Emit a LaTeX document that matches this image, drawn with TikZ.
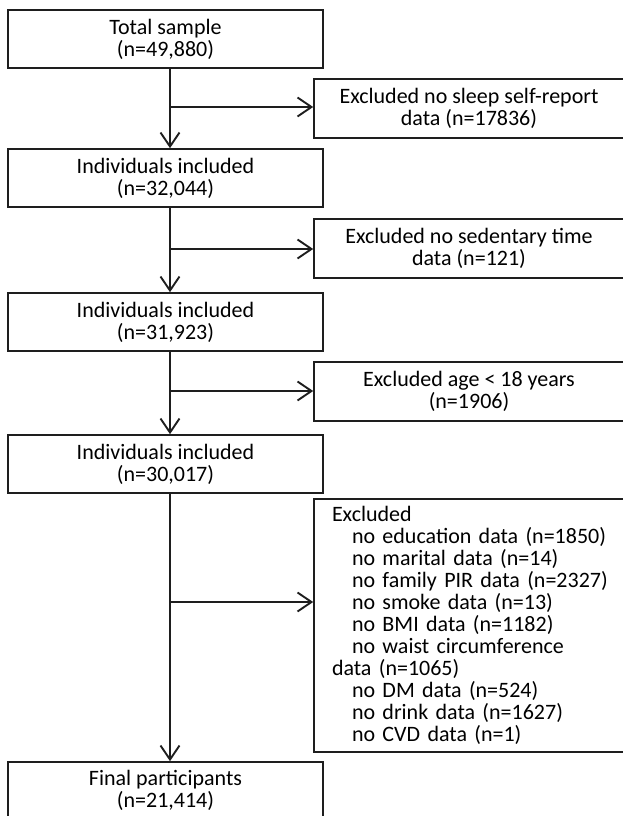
\documentclass[tikz,border=0pt]{standalone}
\usepackage{fontspec}
\setmainfont{Carlito}
\usetikzlibrary{arrows.meta}
\definecolor{edge}{HTML}{1E1E1E}
\newcommand{\lvlA}{\hspace*{13pt}}
\newcommand{\lvlB}{\hspace*{33pt}}
\begin{document}
\begin{tikzpicture}[x=1pt,y=-1pt,
  font=\fontsize{22}{22}\selectfont,
  stagebox/.style={draw=edge,line width=1.6pt,minimum width=315pt,minimum height=58pt,align=center,inner sep=2pt},
  exclbox/.style={draw=edge,line width=1.6pt,minimum width=310pt,minimum height=59pt,align=center,inner sep=2pt},
  flowarr/.style={draw=edge,line width=1.9pt,-{Straight Barb[length=14pt,width=19pt]}}]
\useasboundingbox (0,0) rectangle (622,816);
% main column
\node[stagebox] (b1) at (165.5,39) {Total sample\\(n=49,880)};
\node[stagebox] (b2) at (165.5,178) {Individuals included\\(n=32,044)};
\node[stagebox] (b3) at (165.5,322) {Individuals included\\(n=31,923)};
\node[stagebox] (b4) at (165.5,464) {Individuals included\\(n=30,017)};
\node[stagebox,minimum height=56pt] (b5) at (165.5,790) {Final participants\\(n=21,414)};
% exclusion boxes
\node[exclbox] (e1) at (469,108.5) {Excluded no sleep self-report\\data (n=17836)};
\node[exclbox] (e2) at (469,248.5) {Excluded no sedentary time\\data (n=121)};
\node[exclbox] (e3) at (469,391.5) {Excluded age < 18 years\\(n=1906)};
\node[draw=edge,line width=1.6pt,minimum width=310pt,minimum height=253pt,text width=300pt,inner xsep=5pt,align=left] (e4) at (469,625.5) {\lvlA Excluded\\
\lvlB no education data (n=1850)\\
\lvlB no marital data (n=14)\\
\lvlB no family PIR data (n=2327)\\
\lvlB no smoke data (n=13)\\
\lvlB no BMI data (n=1182)\\
\lvlB no waist circumference\\
\lvlA data (n=1065)\\
\lvlB no DM data (n=524)\\
\lvlB no drink data (n=1627)\\
\lvlB no CVD data (n=1)};
% spine coordinates
\coordinate (s1) at (170,107);
\coordinate (s2) at (170,249);
\coordinate (s3) at (170,391);
\coordinate (s4) at (170,602);
% vertical connectors
\draw[flowarr] (b1.south -| s1) -- (b2.north -| s1);
\draw[flowarr] (b2.south -| s2) -- (b3.north -| s2);
\draw[flowarr] (b3.south -| s3) -- (b4.north -| s3);
\draw[flowarr] (b4.south -| s4) -- (b5.north -| s4);
% horizontal connectors
\draw[flowarr] (s1) -- (s1 -| e1.west);
\draw[flowarr] (s2) -- (s2 -| e2.west);
\draw[flowarr] (s3) -- (s3 -| e3.west);
\draw[flowarr] (s4) -- (s4 -| e4.west);
\end{tikzpicture}
\end{document}
